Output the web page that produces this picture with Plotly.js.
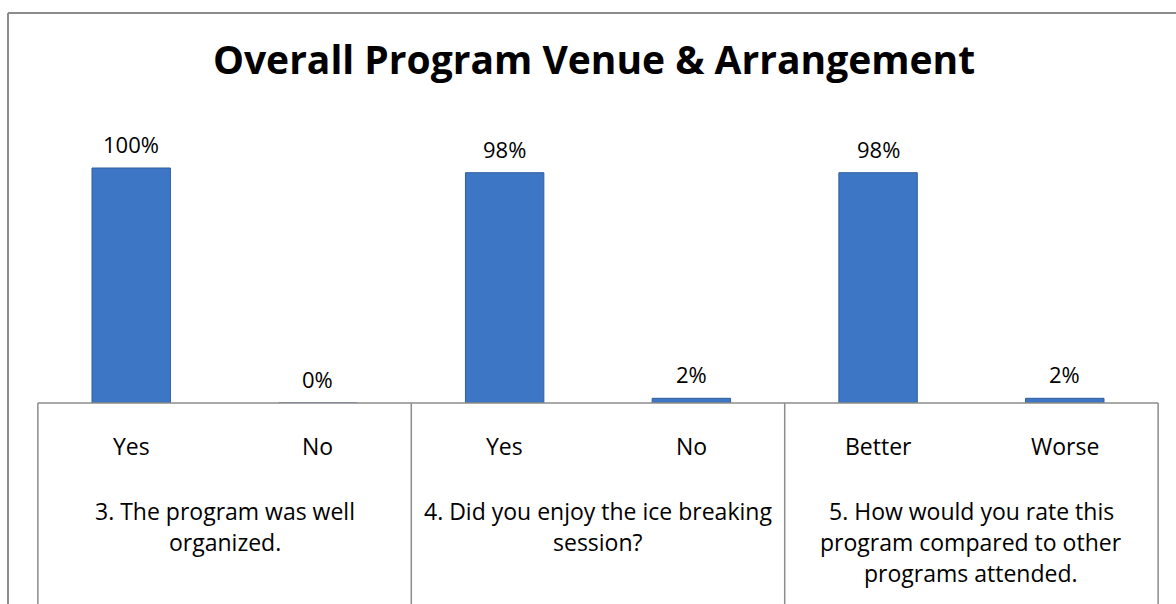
<!DOCTYPE html>
<html>
<head>
<meta charset="utf-8">
<script src="https://cdn.plot.ly/plotly-3.0.1.min.js"></script>
<style>html,body{margin:0;padding:0;background:#fff;}#chart{width:1176px;height:604px;}</style>
</head>
<body>
<div id="chart"></div>
<script>
// ---- data ----
var chartTitle = "Overall Program Venue & Arrangement";
var answers = ["Yes", "No", "Yes", "No", "Better", "Worse"];
var percentages = [100, 0, 98, 2, 98, 2];
var questionLines = [
  ["3. The program was well", "organized."],
  ["4. Did you enjoy the ice breaking", "session?"],
  ["5. How would you rate this", "program compared to other", "programs attended."]
];
var answersPerQuestion = 2;

// ---- layout geometry ----
var W = 1176, H = 604;
var mL = 36, mR = 16, mT = 100, mB = 201;
var plotW = W - mL - mR, plotH = H - mT - mB;
function paperX(px) { return (px - mL) / plotW; }
function paperY(py) { return (H - mB - py) / plotH; }

var FONT = "'Open Sans', Lato, sans-serif";
var FS = 23, FS_VAL = 22;
var idx = answers.map(function (_, i) { return i; });

var trace = {
  type: "bar",
  x: idx,
  y: percentages,
  width: 0.42,
  marker: { color: "#3D76C4", line: { color: "#2F5F9F", width: 1 } },
  hoverinfo: "skip"
};

var annotations = [];
idx.forEach(function (i) {
  annotations.push({
    x: i, y: percentages[i], xref: "x", yref: "y",
    text: percentages[i] + "%", showarrow: false,
    yanchor: "middle", yshift: 24,
    font: { family: FONT, size: FS_VAL, color: "#000" }
  });
  annotations.push({
    x: i, y: 0, xref: "x", yref: "paper",
    text: answers[i], showarrow: false,
    yanchor: "middle", yshift: -43,
    font: { family: FONT, size: FS, color: "#000" }
  });
});
questionLines.forEach(function (lines, g) {
  lines.forEach(function (ln, k) {
    annotations.push({
      x: g * answersPerQuestion + (answersPerQuestion - 1) / 2, y: 0,
      xref: "x", yref: "paper",
      text: ln, showarrow: false, align: "center",
      yanchor: "middle", yshift: -108 - 31 * k,
      font: { family: FONT, size: FS, color: "#000" }
    });
  });
});

var shapes = [];
var lineStyle = { color: "#8C8C8C", width: 1.5 };
shapes.push({
  type: "line", xref: "x", yref: "paper",
  x0: -0.5, x1: answers.length - 0.5, y0: 0, y1: 0, line: lineStyle
});
for (var g = 0; g <= questionLines.length; g++) {
  var xb = g * answersPerQuestion - 0.5;
  shapes.push({
    type: "line", xref: "x", yref: "paper",
    x0: xb, x1: xb, y0: 0, y1: -1, line: lineStyle
  });
}
var frame = { color: "#8C8C8C", width: 2 };
shapes.push({ type: "line", xref: "paper", yref: "paper",
  x0: paperX(8), x1: paperX(W + 20), y0: paperY(13), y1: paperY(13), line: frame });
shapes.push({ type: "line", xref: "paper", yref: "paper",
  x0: paperX(8), x1: paperX(8), y0: paperY(13), y1: paperY(H + 20), line: frame });

var layout = {
  width: W, height: H,
  margin: { l: mL, r: mR, t: mT, b: mB, pad: 0 },
  paper_bgcolor: "#fff", plot_bgcolor: "#fff",
  showlegend: false,
  title: {
    text: "<b>" + chartTitle + "</b>",
    x: 594 / W, xref: "container", xanchor: "center",
    y: 1 - 60 / H, yref: "container", yanchor: "middle",
    font: { family: FONT, size: 39, color: "#000" }
  },
  xaxis: {
    range: [-0.51, answers.length - 0.49],
    showgrid: false, zeroline: false, showline: false,
    showticklabels: false, ticks: "", fixedrange: true
  },
  yaxis: {
    range: [0, 100 * plotH / 235],
    showgrid: false, zeroline: false, showline: false,
    showticklabels: false, ticks: "", fixedrange: true
  },
  annotations: annotations,
  shapes: shapes
};

Plotly.newPlot("chart", [trace], layout, { displayModeBar: false, staticPlot: true });
</script>
</body>
</html>
